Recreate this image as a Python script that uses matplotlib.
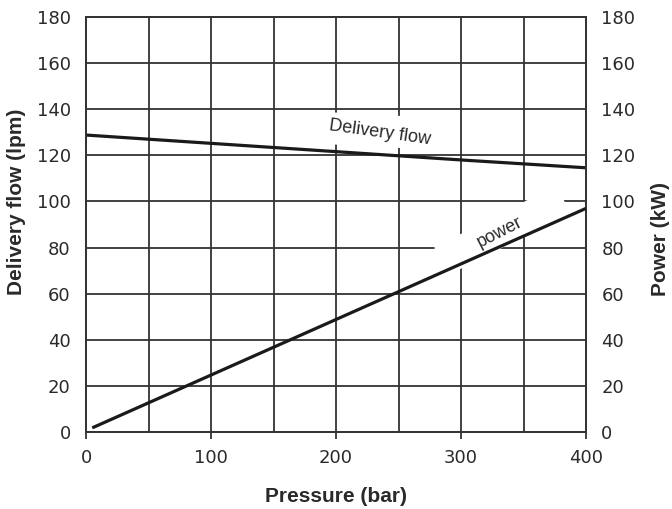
import matplotlib
matplotlib.use("Agg")
import matplotlib.pyplot as plt
from matplotlib.patches import Rectangle
from matplotlib.transforms import Affine2D, ScaledTranslation

# Data
pressure_flow = [0, 100, 200, 300, 400]
delivery_flow = [128.8, 125.2, 121.6, 118.0, 114.6]
pressure_power = [5, 100, 200, 300, 400]
power = [1.8, 24.7, 48.8, 72.9, 97.0]

x_ticks = [0, 100, 200, 300, 400]
y_ticks = [0, 20, 40, 60, 80, 100, 120, 140, 160, 180]
x_grid = [50, 100, 150, 200, 250, 300, 350]

grid_color = "#333333"
line_color = "#1a1a1a"
text_color = "#2a2a2a"

W, H = 672, 509
fig = plt.figure(figsize=(W / 100, H / 100), dpi=100)
ax = fig.add_axes([86 / W, 77 / H, 500 / W, 415 / H])
ax.set_xlim(0, 400)
ax.set_ylim(0, 180)

# grid
for xv in x_grid:
    ax.axvline(xv, color=grid_color, lw=1.3, zorder=1)
for yv in y_ticks[1:]:
    ax.axhline(yv, color=grid_color, lw=1.3, zorder=1)

for s in ax.spines.values():
    s.set_color(grid_color)
    s.set_linewidth(1.3)

tick_font = dict(family="DejaVu Sans", size=13, color=text_color)
ax.set_xticks(x_ticks)
ax.set_xticklabels([str(v) for v in x_ticks], **tick_font)
ax.set_yticks(y_ticks)
ax.set_yticklabels([str(v) for v in y_ticks], **tick_font)
ax.tick_params(axis="x", direction="out", length=5, width=1.3, color=grid_color, pad=7)
ax.tick_params(axis="y", length=0, pad=11)

ax.plot(pressure_flow, delivery_flow, color=line_color, lw=2.3, zorder=5, solid_capstyle="butt")

ax2 = ax.twinx()
ax2.set_ylim(0, 180)
ax2.set_yticks(y_ticks)
ax2.set_yticklabels([str(v) for v in y_ticks], **tick_font)
ax2.tick_params(axis="y", length=0, pad=11)
for s in ax2.spines.values():
    s.set_color(grid_color)
    s.set_linewidth(1.3)
ax2.plot(pressure_power, power, color=line_color, lw=2.3, zorder=5, solid_capstyle="butt")

# white masks behind in-chart labels (gaps in grid)
def mask(xd, yd, angle, w, h):
    tr = Affine2D().rotate_deg(angle) + ScaledTranslation(xd, yd, ax.transData)
    r = Rectangle((-w / 2, -h / 2), w, h, transform=tr, fc="white", ec="none", zorder=2)
    ax.add_patch(r)

mask(235, 130.6, -3, 128, 32)
mask(333, 87.5, 27, 137, 31)

ax.text(235, 129.7, "Delivery flow", rotation=-8, ha="center", va="center",
        family="Liberation Sans", size=13, color=text_color, zorder=3,
        rotation_mode="anchor")
ax.text(331, 86.7, "power", rotation=27, ha="center", va="center",
        family="Liberation Sans", size=13, color=text_color, zorder=3,
        rotation_mode="anchor")

label_font = dict(family="Liberation Sans", size=15, weight="bold", color=text_color)
fig.text(336 / W, 1 - 496 / H, "Pressure (bar)", ha="center", va="center", **label_font)
fig.text(17 / W, 1 - 202 / H, "Delivery flow (lpm)", rotation=90, ha="center", va="center", **label_font)
fig.text(660 / W, 1 - 239 / H, "Power (kW)", rotation=90, ha="center", va="center", **label_font)

fig.savefig("out.png", dpi=100)
